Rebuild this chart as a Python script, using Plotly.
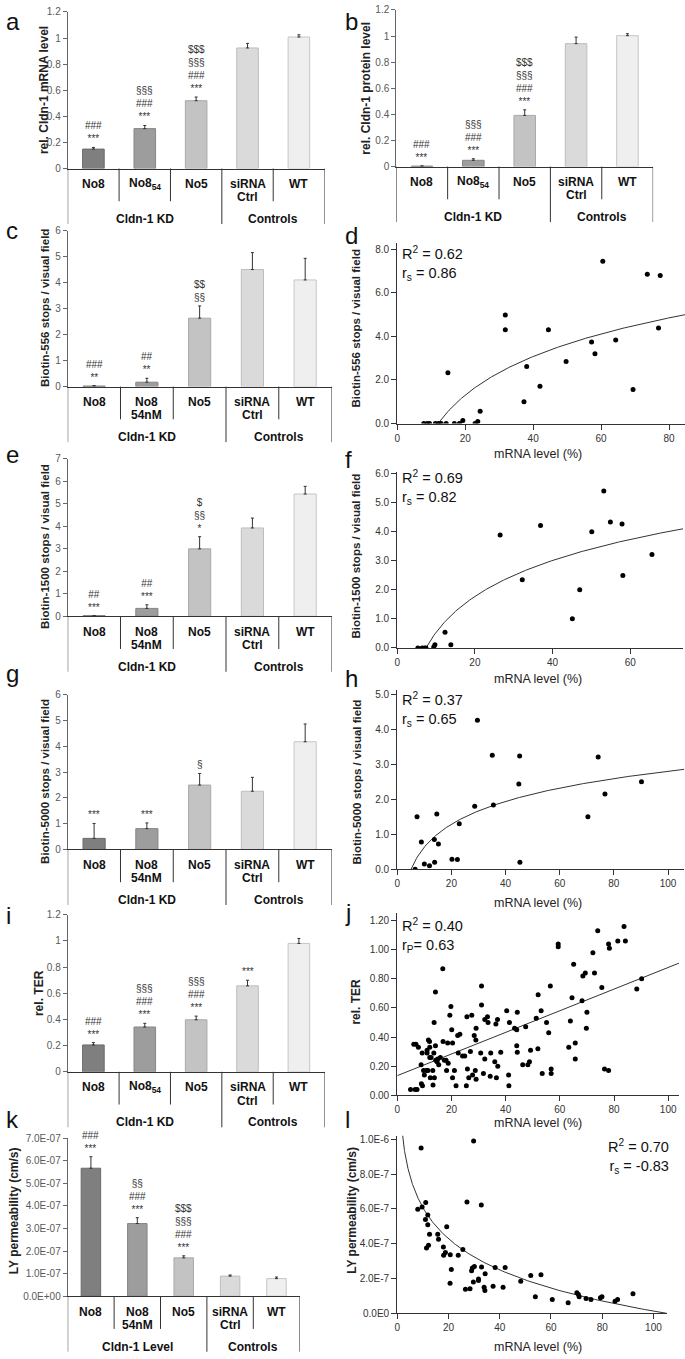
import numpy as np
import plotly.graph_objects as go

W, H = 685, 1359
FONT = "Arial, 'Liberation Sans', sans-serif"

# ---------------- data ----------------
cat_labels_sub = ["No8", "No8<sub>54</sub>", "No5", "siRNA<br>Ctrl", "WT"]
cat_labels_nm = ["No8", "No8<br>54nM", "No5", "siRNA<br>Ctrl", "WT"]
group_labels_kd = ["Cldn-1 KD", "Controls"]
group_labels_level = ["Cldn-1 Level", "Controls"]

a_values = [0.149, 0.306, 0.52, 0.924, 1.008]
a_errors = [0.013, 0.024, 0.028, 0.035, 0.017]
a_sig = ["###<br>***", "§§§<br>###<br>***", "$$$<br>§§§<br>###<br>***", "", ""]

b_values = [0.003, 0.048, 0.392, 0.942, 1.003]
b_errors = [0.002, 0.012, 0.043, 0.05, 0.015]
b_sig = ["###<br>***", "§§§<br>###<br>***", "$$$<br>§§§<br>###<br>***", "", ""]

c_values = [0.02, 0.17, 2.63, 4.5, 4.1]
c_errors = [0.02, 0.15, 0.47, 0.65, 0.83]
c_sig = ["###<br>**", "##<br>**", "$$<br>§§", "", ""]

e_values = [0.02, 0.35, 3.0, 3.93, 5.44]
e_errors = [0.01, 0.16, 0.54, 0.44, 0.34]
e_sig = ["##<br>***", "##<br>***", "$<br>§§<br>*", "", ""]

g_values = [0.43, 0.81, 2.5, 2.26, 4.18]
g_errors = [0.58, 0.22, 0.45, 0.54, 0.69]
g_sig = ["***", "***", "§", "", ""]

i_values = [0.205, 0.342, 0.397, 0.656, 0.98]
i_errors = [0.018, 0.028, 0.028, 0.043, 0.038]
i_sig = ["###<br>***", "§§§<br>###<br>***", "§§§<br>###<br>***", "***", ""]

k_values = [5.67e-7, 3.22e-7, 1.70e-7, 0.89e-7, 0.78e-7]
k_errors = [0.51e-7, 0.26e-7, 0.09e-7, 0.05e-7, 0.07e-7]
k_sig = ["###<br>***", "§§<br>###<br>***", "$$$<br>§§§<br>###<br>***", "", ""]

# scatter d: Biotin-556
d_x = [7.8, 8.8, 9.5, 11.2, 12.1, 12.9, 14.4, 14.9, 16.8, 18.3, 19.3, 22.9, 23.7, 24.4,
       31.8, 31.8, 37.3, 38.1, 42.0, 44.5, 49.7, 57.2, 58.2, 60.5, 64.3, 69.4, 73.6, 77.4, 76.9]
d_y = [0, 0, 0, 0, 0, 0, 0, 2.33, 0, 0, 0.14, 0, 0.1, 0.56,
       4.98, 4.3, 1.0, 2.62, 1.71, 4.3, 2.85, 3.74, 3.2, 7.44, 3.83, 1.56, 6.85, 6.79, 4.38]
d_fit_slope, d_fit_x0 = 2.555, 12.0

# scatter f: Biotin-1500
f_x = [5.3, 6.4, 7.0, 7.4, 9.4, 9.7, 12.3, 13.8, 26.5, 32.2, 36.9, 45.1, 47.0, 50.1,
       53.2, 54.9, 57.9, 58.1, 65.6]
f_y = [0, 0, 0, 0, 0.03, 0.11, 0.54, 0.11, 3.88, 2.34, 4.2, 1.0, 2.0, 3.99,
       5.39, 4.32, 4.25, 2.49, 3.21]
f_fit_slope, f_fit_x0 = 1.78, 7.4

# scatter h: Biotin-5000
h_x = [6.6, 7.3, 8.9, 10.0, 11.9, 13.7, 13.8, 14.6, 15.2, 20.2, 22.2, 22.9, 28.6, 29.6,
       35.1, 35.5, 45.2, 44.9, 45.3, 70.4, 74.2, 76.7, 90.2]
h_y = [0, 1.5, 0.78, 0.15, 0.1, 0.85, 0.2, 1.58, 0.72, 0.29, 0.28, 1.3, 1.8, 4.26,
       3.26, 1.84, 3.24, 2.44, 0.2, 1.5, 3.21, 2.15, 2.5]
h_fit_slope, h_fit_x0 = 0.942, 5.1

# scatter j: rel. TER
j_x = [4.9, 6.6, 7.3, 6.1, 6.9, 7.8, 8.8, 8.9, 9.3, 9.2, 9.7, 10.0, 10.8, 11.0, 11.0, 11.3,
       11.5, 11.9, 12.0, 12.0, 12.2, 12.5, 13.1, 13.2, 13.5, 13.6, 13.7, 14.1, 14.1, 14.2,
       14.7, 14.9, 15.3, 15.9, 16.8, 16.9, 17.4, 18.0, 18.2, 18.6, 18.8, 19.4, 19.8, 20.1,
       20.4, 20.4, 21.1, 21.7, 22.3, 22.5, 23.1, 24.1, 24.9, 25.5, 25.7, 25.9, 26.4, 27.0,
       27.5, 27.8, 28.4, 28.8, 29.0, 29.1, 29.1, 30.8, 31.1, 31.1, 31.8, 32.3, 32.3, 33.3,
       33.5, 34.3, 34.5, 36.0, 36.4, 36.6, 37.0, 37.1, 38.2, 40.4, 41.4, 41.1, 41.2, 43.3,
       44.1, 44.1, 44.3, 44.3, 46.3, 47.4, 48.2, 48.8, 49.2, 51.3, 51.9, 52.0, 53.1, 53.5,
       55.1, 55.9, 56.5, 56.8, 56.8, 59.4, 59.4, 63.3, 63.9, 64.5, 65.1, 65.7, 65.7, 68.2,
       68.5, 69.4, 69.8, 70.0, 72.2, 72.8, 74.0, 75.5, 76.5, 78.0, 78.0, 78.3, 81.4, 83.7,
       84.2, 88.4, 90.2]
j_y = [0.04, 0.04, 0.04, 0.35, 0.35, 0.33, 0.21, 0.08, 0.065, 0.29, 0.17, 0.14, 0.17, 0.31,
       0.29, 0.17, 0.38, 0.37, 0.33, 0.26, 0.12, 0.26, 0.17, 0.07, 0.29, 0.50, 0.12, 0.71,
       0.34, 0.24, 0.23, 0.25, 0.21, 0.26, 0.87, 0.37, 0.24, 0.24, 0.17, 0.36, 0.22, 0.55,
       0.61, 0.45, 0.36, 0.12, 0.17, 0.065, 0.41, 0.29, 0.42, 0.27, 0.27, 0.065, 0.54, 0.18,
       0.12, 0.30, 0.55, 0.14, 0.41, 0.17, 0.38, 0.11, 0.46, 0.29, 0.75, 0.62, 0.15, 0.25,
       0.52, 0.54, 0.50, 0.13, 0.29, 0.23, 0.49, 0.12, 0.52, 0.20, 0.295, 0.58, 0.50, 0.14,
       0.065, 0.46, 0.45, 0.34, 0.295, 0.57, 0.21, 0.47, 0.21, 0.23, 0.31, 0.53, 0.32, 0.69,
       0.58, 0.15, 0.50, 0.43, 0.75, 0.18, 0.15, 1.04, 1.02, 0.33, 0.51, 0.67, 0.90, 0.25,
       0.36, 0.65, 0.82, 0.84, 0.46, 0.57, 0.98, 0.84, 1.13, 0.74, 0.18, 1.04, 0.17, 1.01,
       1.06, 1.16, 1.06, 0.73, 0.80]
j_fit_intercept, j_fit_slope = 0.135, 0.00743

# scatter l: LY permeability
l_x = [9.3, 29.8, 8.0, 9.7, 11.1, 11.0, 11.9, 11.9, 12.6, 11.4, 12.2, 15.8, 16.1, 19.3,
       18.0, 18.1, 18.8, 20.7, 20.6, 21.1, 23.8, 25.6, 26.6, 27.2, 28.4, 29.0, 29.3, 30.1,
       29.7, 31.7, 31.7, 32.8, 32.9, 33.9, 34.2, 34.3, 38.2, 37.4, 41.3, 42.1, 48.2, 52.1,
       56.1, 53.9, 60.5, 66.7, 70.1, 70.7, 71.0, 73.7, 75.6, 79.3, 79.9, 85.0, 86.0, 92.0]
l_y = [9.49e-7, 9.9e-7, 5.98e-7, 6.11e-7, 6.36e-7, 5.39e-7, 5.65e-7, 5.09e-7, 4.54e-7,
       3.76e-7, 3.91e-7, 4.54e-7, 4.25e-7, 4.97e-7, 3.81e-7, 3.34e-7, 3.49e-7, 3.36e-7,
       1.73e-7, 2.52e-7, 3.34e-7, 3.66e-7, 1.39e-7, 6.39e-7, 1.42e-7, 2.45e-7, 2.6e-7,
       2.69e-7, 1.8e-7, 1.97e-7, 1.88e-7, 6.22e-7, 2.66e-7, 1.5e-7, 1.31e-7, 2.28e-7,
       2.64e-7, 1.56e-7, 1.5e-7, 2.64e-7, 1.84e-7, 2.18e-7, 2.22e-7, 0.95e-7, 0.8e-7,
       0.61e-7, 1.18e-7, 1.08e-7, 0.95e-7, 0.85e-7, 0.8e-7, 0.89e-7, 0.95e-7, 0.7e-7,
       0.8e-7, 1.12e-7]
l_fit_slope, l_fit_x0 = 2.58e-7, 105.2

# tick labels
ticks_rel = [0, 0.2, 0.4, 0.6, 0.8, 1.0, 1.2]
ticktext_rel = ["0", "0.2", "0.4", "0.6", "0.8", "1", "1.2"]
ticks_0_6 = [0, 1, 2, 3, 4, 5, 6]
ticks_0_7 = [0, 1, 2, 3, 4, 5, 6, 7]
ticks_k = [0, 1e-7, 2e-7, 3e-7, 4e-7, 5e-7, 6e-7, 7e-7]
ticktext_k = ["0.0E+00", "1.0E-07", "2.0E-07", "3.0E-07", "4.0E-07", "5.0E-07", "6.0E-07", "7.0E-07"]
ticks_l = [0, 2e-7, 4e-7, 6e-7, 8e-7, 1e-6]
ticktext_l = ["0.0E0", "2.0E-7", "4.0E-7", "6.0E-7", "8.0E-7", "1.0E-6"]

bar_fill = ["#7f7f7f", "#9d9d9d", "#c3c3c3", "#dadada", "#efefef"]
bar_edge = ["#6a6a6a", "#868686", "#a9a9a9", "#bdbdbd", "#c6c6c6"]

# ---------------- figure ----------------
fig = go.Figure()
layout = dict(width=W, height=H, autosize=False, margin=dict(l=0, r=0, t=0, b=0),
              showlegend=False, plot_bgcolor="white", paper_bgcolor="white",
              font=dict(family=FONT, color="#222"))
annotations = []
shapes = []


def fx(px):
    return px / W


def fy(py):
    return 1 - py / H


def ax_names(n):
    s = "" if n == 1 else str(n)
    return "xaxis" + s, "yaxis" + s, "x" + s, "y" + s


def letter(txt, x, y, anchor="middle"):
    annotations.append(dict(xref="paper", yref="paper", x=fx(x), y=fy(y), text=txt,
                            showarrow=False, xanchor="left", yanchor=anchor,
                            font=dict(size=24, color="#111")))


def ytitle(txt, x, y, size=12):
    annotations.append(dict(xref="paper", yref="paper", x=fx(x), y=fy(y),
                            text="<b>" + txt + "</b>", textangle=-90, showarrow=False,
                            xanchor="center", yanchor="middle",
                            font=dict(size=size, color="#222")))


def bar_panel(n, left, right, top, bottom, ymax, values, errors, sig, cats, groups,
              yticks, yticktext):
    xa, ya, xr, yr = ax_names(n)
    layout[xa] = dict(domain=[fx(left), fx(right)], range=[-0.5, 4.5], anchor=yr,
                      showline=True, linecolor="#333", linewidth=1, ticks="",
                      showticklabels=False, showgrid=False, zeroline=False)
    layout[ya] = dict(domain=[fy(bottom), fy(top)], range=[0, ymax], anchor=xr,
                      showline=True, linecolor="#666", linewidth=1, ticks="outside",
                      ticklen=4, tickcolor="#666", tickvals=yticks, ticktext=yticktext,
                      tickfont=dict(size=10, color="#595959"), showgrid=False,
                      zeroline=False)
    xs = list(range(len(values)))
    fig.add_trace(go.Bar(x=xs, y=values, width=0.42,
                         marker=dict(color=bar_fill, line=dict(color=bar_edge, width=1)),
                         error_y=dict(type="data", symmetric=False, array=errors,
                                      arrayminus=[0] * len(errors), color="#333",
                                      thickness=1, width=1.5),
                         xaxis=xr, yaxis=yr))
    for i, s in enumerate(sig):
        if s:
            annotations.append(dict(xref=xr, yref=yr, x=xs[i], y=values[i] + errors[i],
                                    text=s, showarrow=False, xanchor="center",
                                    yanchor="bottom", yshift=1,
                                    font=dict(size=10, color="#333")))
    for i, c in enumerate(cats):
        for k, line in enumerate(c.split("<br>")):
            annotations.append(dict(xref=xr, yref="paper", x=xs[i],
                                    y=fy(bottom + 15.5 + 13.5 * k),
                                    text="<b>" + line + "</b>", showarrow=False,
                                    xanchor="center", yanchor="middle",
                                    font=dict(size=12, color="#111")))
    annotations.append(dict(xref=xr, yref="paper", x=(xs[0] + xs[2]) / 2, y=fy(bottom + 51),
                            text="<b>" + groups[0] + "</b>", showarrow=False,
                            xanchor="center", yanchor="middle",
                            font=dict(size=12, color="#111")))
    annotations.append(dict(xref=xr, yref="paper", x=(xs[3] + xs[4]) / 2, y=fy(bottom + 51),
                            text="<b>" + groups[1] + "</b>", showarrow=False,
                            xanchor="center", yanchor="middle",
                            font=dict(size=12, color="#111")))
    for xv in [0.5, 1.5, 3.5]:
        shapes.append(dict(type="line", xref=xr, yref="paper", x0=xv, x1=xv,
                           y0=fy(bottom), y1=fy(bottom + 33),
                           line=dict(color="#333", width=1)))
    for xv in [-0.5, 2.5, 4.5]:
        shapes.append(dict(type="line", xref=xr, yref="paper", x0=xv, x1=xv,
                           y0=fy(bottom), y1=fy(bottom + 56),
                           line=dict(color="#333", width=1)))


def scatter_panel(n, left, right, top, bottom, xmax, ymax, xs, ys, fx_, fy_, xticks,
                  yticks, yticktext):
    xa, ya, xr, yr = ax_names(n)
    layout[xa] = dict(domain=[fx(left), fx(right)], range=[0, xmax], anchor=yr,
                      showline=True, linecolor="#333", linewidth=1.2, ticks="outside",
                      ticklen=5, tickcolor="#333", tickvals=xticks,
                      tickfont=dict(size=10, color="#333"), showgrid=False,
                      zeroline=False)
    layout[ya] = dict(domain=[fy(bottom), fy(top)], range=[0, ymax], anchor=xr,
                      showline=True, linecolor="#333", linewidth=1.2, ticks="outside",
                      ticklen=5, tickcolor="#333", tickvals=yticks, ticktext=yticktext,
                      tickfont=dict(size=10, color="#333"), showgrid=False,
                      zeroline=False)
    fig.add_trace(go.Scatter(x=fx_, y=fy_, mode="lines",
                             line=dict(color="#333", width=1), xaxis=xr, yaxis=yr))
    fig.add_trace(go.Scatter(x=xs, y=ys, mode="markers",
                             marker=dict(size=5, color="black"), xaxis=xr, yaxis=yr))


def stats(text, x, y, anchor="left"):
    annotations.append(dict(xref="paper", yref="paper", x=fx(x), y=fy(y), text=text,
                            showarrow=False, xanchor=anchor, yanchor="top",
                            align=anchor, font=dict(size=14.5, color="#111")))


def xtitle(y):
    annotations.append(dict(xref="paper", yref="paper", x=fx(537), y=fy(y),
                            text="mRNA level (%)", showarrow=False, xanchor="center",
                            yanchor="middle", font=dict(size=12.5, color="#222")))


# ---- bar panels ----
bar_panel(1, 65, 323, 6, 164, 1.2, a_values, a_errors, a_sig, cat_labels_sub,
          group_labels_kd, ticks_rel, ticktext_rel)
bar_panel(2, 395, 653, 4, 162, 1.2, b_values, b_errors, b_sig, cat_labels_sub,
          group_labels_kd, ticks_rel, ticktext_rel)
bar_panel(3, 65, 330, 226.5, 384, 6, c_values, c_errors, c_sig, cat_labels_nm,
          group_labels_kd, ticks_0_6, [str(v) for v in ticks_0_6])
bar_panel(5, 65, 330, 457, 615.7, 7, e_values, e_errors, e_sig, cat_labels_nm,
          group_labels_kd, ticks_0_7, [str(v) for v in ticks_0_7])
bar_panel(7, 65, 330, 695, 851, 6, g_values, g_errors, g_sig, cat_labels_nm,
          group_labels_kd, ticks_0_6, [str(v) for v in ticks_0_6])
bar_panel(9, 65, 323, 916.7, 1075.3, 1.2, i_values, i_errors, i_sig, cat_labels_sub,
          group_labels_kd, ticks_rel, ticktext_rel)
bar_panel(11, 65, 298, 1142.3, 1301.7, 7e-7, k_values, k_errors, k_sig, cat_labels_nm,
          group_labels_level, ticks_k, ticktext_k)

# ---- scatter panels ----
xd = np.linspace(d_fit_x0, 84.7, 200)
scatter_panel(4, 396, 685, 238.7, 421.3, 84.7, 8.3, d_x, d_y, xd,
              d_fit_slope * np.log(xd / d_fit_x0), [0, 20, 40, 60, 80],
              [0, 2, 4, 6, 8], ["0.0", "2.0", "4.0", "6.0", "8.0"])
xf = np.linspace(f_fit_x0, 73.6, 200)
scatter_panel(6, 396, 683, 469.8, 647.7, 73.6, 6.05, f_x, f_y, xf,
              f_fit_slope * np.log(xf / f_fit_x0), [0, 20, 40, 60],
              [0, 1, 2, 3, 4, 5, 6], ["0.0", "1.0", "2.0", "3.0", "4.0", "5.0", "6.0"])
xh = np.linspace(h_fit_x0, 105.9, 200)
scatter_panel(8, 396, 684, 689.9, 871, 105.9, 5.13, h_x, h_y, xh,
              h_fit_slope * np.log(xh / h_fit_x0), [0, 20, 40, 60, 80, 100],
              [0, 1, 2, 3, 4, 5], ["0.0", "1.0", "2.0", "3.0", "4.0", "5.0"])
xj = np.linspace(0, 104, 50)
scatter_panel(10, 396, 679, 915.4, 1099, 104, 1.25, j_x, j_y, xj,
              j_fit_intercept + j_fit_slope * xj, [0, 20, 40, 60, 80, 100],
              ticks_rel, ["0.00", "0.20", "0.40", "0.60", "0.80", "1.00", "1.20"])
xl = np.geomspace(1.5, l_fit_x0, 300)
scatter_panel(12, 396, 666.7, 1139.8, 1319, 105.2, 1.02e-6, l_x, l_y, xl,
              l_fit_slope * np.log(l_fit_x0 / xl), [0, 20, 40, 60, 80, 100],
              ticks_l, ticktext_l)

# ---- titles ----
ytitle("rel. Cldn-1 mRNA level", 41, 85)
ytitle("rel. Cldn-1 protein level", 365, 83)
ytitle("Biotin-556 stops / visual field", 42, 305, 11.5)
ytitle("Biotin-1500 stops / visual field", 42, 545, 11.5)
ytitle("Biotin-5000 stops / visual field", 42, 782, 11.5)
ytitle("rel. TER", 36, 996)
ytitle("LY permeability (cm/s)", 11, 1215)
ytitle("Biotin-556 stops / visual field", 355, 325, 11.5)
ytitle("Biotin-1500 stops / visual field", 355, 555, 11.5)
ytitle("Biotin-5000 stops / visual field", 356, 783, 11.5)
ytitle("rel. TER", 355, 1004)
ytitle("LY permeability (cm/s)", 351, 1215)

for yy in [452, 679, 905, 1127, 1353]:
    xtitle(yy)

stats("R<sup>2</sup> = 0.62<br>r<sub>s</sub> = 0.86", 399, 238)
stats("R<sup>2</sup> = 0.69<br>r<sub>s</sub> = 0.82", 399, 464)
stats("R<sup>2</sup> = 0.37<br>r<sub>s</sub> = 0.65", 399, 688)
stats("R<sup>2</sup> = 0.40<br>r<sub>P</sub>= 0.63", 399, 916)
stats("R<sup>2</sup> = 0.70<br>r<sub>s</sub> = -0.83", 671, 1139, anchor="right")

# ---- panel letters ----
letter("a", 1, 0, anchor="top")
letter("b", 341, 0, anchor="top")
letter("c", 1, 226)
letter("d", 341, 232)
letter("e", 1, 452)
letter("f", 341, 458)
letter("g", 1, 673)
letter("h", 341, 678)
letter("i", 1, 918)
letter("j", 341, 915)
letter("k", 1, 1123)
letter("l", 341, 1123)

layout["annotations"] = annotations
layout["shapes"] = shapes
fig.update_layout(**layout)
fig.write_html("out.html", config={"displayModeBar": False},
               post_script="document.body.style.margin='0';"
                           "document.body.style.overflow='hidden';")
